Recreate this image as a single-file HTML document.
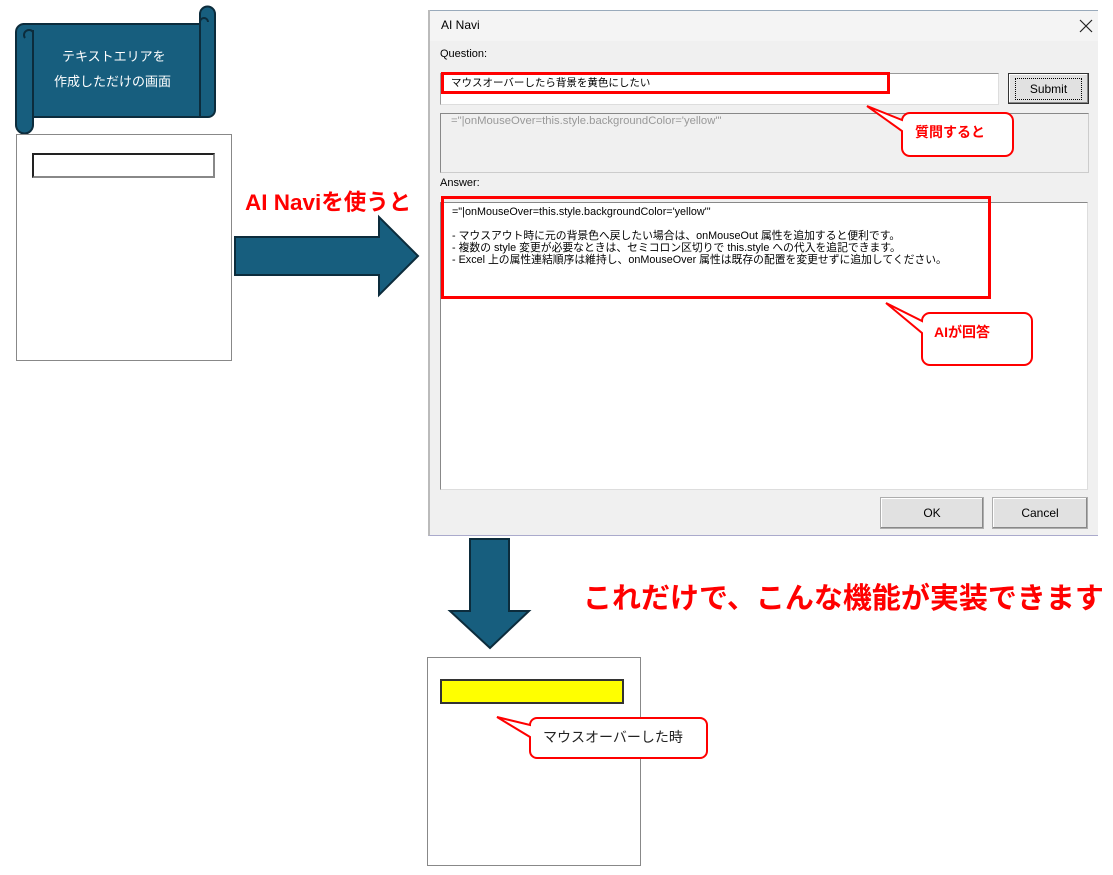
<!DOCTYPE html>
<html><head><meta charset="utf-8"><style>
*{margin:0;padding:0;box-sizing:border-box}
body{width:1113px;height:875px;background:#fff;position:relative;overflow:hidden;font-family:"Liberation Sans","Noto Sans CJK JP",sans-serif}
.a{position:absolute}
.t{position:absolute;white-space:nowrap;line-height:1}
.btn{position:absolute;background:#e1e1e1;border:1px solid #adadad;box-shadow:inset -1px -1px 0 #888,inset 1px 1px 0 #fff;font-size:12px;display:flex;align-items:center;justify-content:center;color:#000}
</style></head><body>
<svg class="a" style="left:0;top:0" width="1113" height="875">
<path d="M24 24 H207 V117 H24 Z" fill="#175e7e" stroke="#0c2c3c" stroke-width="2" />
<path d="M200 24 V14 a7 7 0 0 1 15 0 V110 a7 7 0 0 1 -7 7 H200 Z" fill="#175e7e" stroke="#0c2c3c" stroke-width="2"/>
<path d="M23 24 H200 V117 H33 V125 a8 8 0 0 1 -17 0 V32 a8 8 0 0 1 8 -8Z" fill="#175e7e" stroke="#0c2c3c" stroke-width="2"/>
<path d="M25 38 a4 4 0 1 1 8 -6" fill="none" stroke="#0c2c3c" stroke-width="2"/>
<path d="M33 30 V118" stroke="#0c2c3c" stroke-width="2"/>
<path d="M200 22 a4 4 0 1 1 8 0" fill="none" stroke="#0c2c3c" stroke-width="2"/>
<path d="M235 237 H379 V217 L418 256 L379 295 V275 H235 Z" fill="#175e7e" stroke="#0c2c3c" stroke-width="2"/>
<path d="M470 539 H509 V611 H529 L490 648 L450 611 H470 Z" fill="#175e7e" stroke="#0c2c3c" stroke-width="2"/>
</svg>
<div class="t" style="left:62px;top:50px;color:#fff;font-size:13px">テキストエリアを</div>
<div class="t" style="left:54px;top:75px;color:#fff;font-size:13px">作成しただけの画面</div>
<div class="a" style="left:16px;top:134px;width:216px;height:227px;border:1px solid #888"></div>
<div class="a" style="left:32px;top:153px;width:183px;height:25px;border:2px solid #222;border-right-color:#888;border-bottom-color:#888"></div>
<div class="t" style="left:245px;top:192px;color:#f00;font-size:22.5px;font-weight:bold">AI Naviを使うと</div>

<div class="a" style="left:428px;top:10px;width:670px;height:526px;background:#f0f0f0;border-left:2px solid #bbb;border-bottom:1px solid #aac"></div>
<div class="a" style="left:430px;top:10px;width:668px;height:31px;background:#f4f4f4;border-top:1px solid #9ab"></div>
<div class="t" style="left:441px;top:19px;font-size:12px">AI Navi</div>
<svg class="a" style="left:1079px;top:19px" width="14" height="14"><path d="M1 1 L13 13 M13 1 L1 13" stroke="#222" stroke-width="1.2"/></svg>
<div class="t" style="left:440px;top:49px;font-size:11px">Question:</div>
<div class="a" style="left:440px;top:73px;width:559px;height:32px;background:#fff;border:1px solid #999;border-right-color:#ddd;border-bottom-color:#ddd"></div>
<div class="a" style="left:441px;top:72px;width:449px;height:22px;border:3px solid #f00"></div>
<div class="t" style="left:451px;top:78px;font-size:10.5px">マウスオーバーしたら背景を黄色にしたい</div>
<div class="btn" style="left:1008px;top:73px;width:81px;height:31px;border:1px solid #333"><span style="border:1px dotted #000;padding:3px 14px">Submit</span></div>
<div class="a" style="left:440px;top:113px;width:649px;height:60px;border:1px solid #888;border-right-color:#ccc;border-bottom-color:#ccc"></div>
<div class="t" style="left:451px;top:116px;font-size:11.3px;color:#999">="|onMouseOver=this.style.backgroundColor='yellow'"</div>
<div class="t" style="left:440px;top:178px;font-size:11px">Answer:</div>
<div class="a" style="left:440px;top:202px;width:648px;height:288px;background:#fff;border:1px solid #888;border-right-color:#ddd;border-bottom-color:#ddd"></div>
<div class="a" style="left:441px;top:196px;width:550px;height:103px;border:3px solid #f00"></div>
<div class="a" style="left:452px;top:206px;font-size:10.8px;line-height:12px;white-space:nowrap">="|onMouseOver=this.style.backgroundColor='yellow'"<br><br>- マウスアウト時に元の背景色へ戻したい場合は、onMouseOut 属性を追加すると便利です。<br>- 複数の style 変更が必要なときは、セミコロン区切りで this.style への代入を追記できます。<br>- Excel 上の属性連結順序は維持し、onMouseOver 属性は既存の配置を変更せずに追加してください。</div>
<div class="btn" style="left:880px;top:497px;width:104px;height:32px">OK</div>
<div class="btn" style="left:992px;top:497px;width:96px;height:32px">Cancel</div>

<svg class="a" style="left:0;top:0" width="1113" height="875">
<path d="M910 113 H1005 a8 8 0 0 1 8 8 V148 a8 8 0 0 1 -8 8 H910 a8 8 0 0 1 -8 -8 V131 L867 106 L902 120 a8 8 0 0 1 8 -7Z" fill="#fff" stroke="#f00" stroke-width="2"/>
<path d="M930 313 H1024 a8 8 0 0 1 8 8 V357 a8 8 0 0 1 -8 8 H930 a8 8 0 0 1 -8 -8 V333 L886 303 L922 321 a8 8 0 0 1 8 -8Z" fill="#fff" stroke="#f00" stroke-width="2"/>
<rect x="427.5" y="657.5" width="213" height="208" fill="none" stroke="#888"/>
<rect x="441" y="680" width="182" height="23" fill="#ff0" stroke="#333" stroke-width="2"/>
<path d="M537 718 H700 a7 7 0 0 1 7 7 V751 a7 7 0 0 1 -7 7 H537 a7 7 0 0 1 -7 -7 V737 L497 717 L530 725 a7 7 0 0 1 7 -7Z" fill="#fff" stroke="#f00" stroke-width="2"/>
</svg>
<div class="t" style="left:915px;top:125px;color:#f00;font-size:14px;font-weight:bold">質問すると</div>
<div class="t" style="left:934px;top:325px;color:#f00;font-size:14px;font-weight:bold">AIが回答</div>
<div class="t" style="left:543px;top:730px;font-size:14px;color:#222">マウスオーバーした時</div>
<div class="t" style="left:583px;top:585px;color:#f00;font-size:29px;font-weight:bold">これだけで、こんな機能が実装できます</div>
</body></html>
